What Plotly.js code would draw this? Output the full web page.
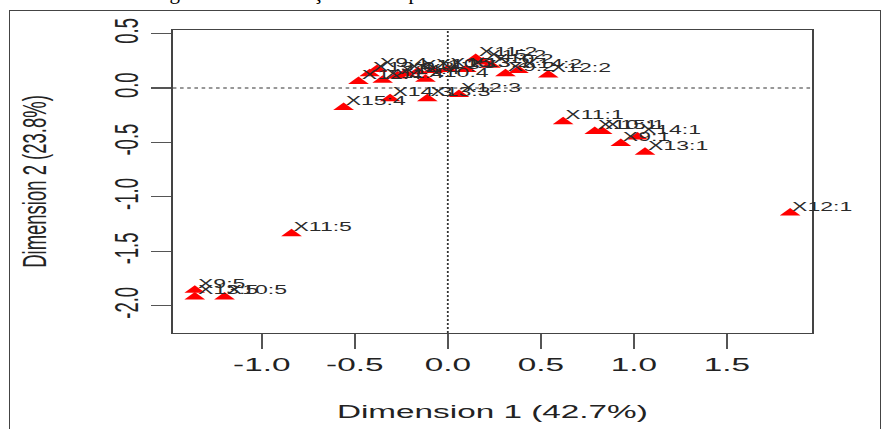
<!DOCTYPE html>
<html><head><meta charset="utf-8">
<script src="https://cdn.plot.ly/plotly-3.0.1.min.js"></script>
<style>
html,body{margin:0;padding:0;background:#fff;overflow:hidden;}
#wrap{position:relative;width:883px;height:429px;overflow:hidden;background:#fff;}
#frame{position:absolute;left:9px;top:10px;width:872px;height:440px;border:1.5px solid #444;box-sizing:border-box;}
#cap{position:absolute;left:150px;top:-18px;font-family:"Liberation Serif",serif;font-size:21px;line-height:21px;white-space:nowrap;color:#000;letter-spacing:1px;}
#plot{position:absolute;left:0;top:0;width:490.5px;height:429px;transform:scaleX(1.8002);transform-origin:0 0;}
</style></head>
<body>
<div id="wrap"><div id="frame"></div><div id="cap">Figura 2 – Ilustração do mapa</div><div id="plot"></div></div>
<script>
const labels = ["X12:1","X11:1","X10:1","X15:1","X9:1","X14:1","X13:1",
  "X9:5","X13:5","X10:5","X11:5",
  "X15:4","X14:3","X13:3","X12:3",
  "X12:4","X13:4","X9:4","X11:4","X14:4","X9:3","X10:4","X11:3","X10:3","X15:3",
  "X13:2","X11:2","X15:2","X10:2","X9:2","X14:2","X12:2"];
const dim1 = [1.84,0.62,0.79,0.83,0.93,1.02,1.06,
  -1.36,-1.36,-1.20,-0.84,
  -0.56,-0.31,-0.11,0.06,
  -0.48,-0.42,-0.38,-0.35,-0.27,-0.23,-0.12,-0.16,-0.08,0.00,
  0.10,0.15,0.19,0.23,0.31,0.38,0.54];
const dim2 = [-1.15,-0.31,-0.40,-0.40,-0.51,-0.45,-0.59,
  -1.86,-1.92,-1.92,-1.34,
  -0.18,-0.10,-0.10,-0.06,
  0.06,0.13,0.17,0.07,0.11,0.13,0.08,0.15,0.16,0.17,
  0.17,0.27,0.24,0.21,0.13,0.16,0.12];
const xTickVals = [-1,-0.5,0,0.5,1,1.5];
const xTickText = ["-1.0","-0.5","0.0","0.5","1.0","1.5"];
const yTickVals = [0.5,0,-0.5,-1,-1.5,-2];
const yTickText = ["0.5","0.0","-0.5","-1.0","-1.5","-2.0"];
const xTitle = "Dimension 1 (42.7%)";
const yTitle = "Dimension 2 (23.8%)";

const fontFam = "Liberation Sans, Arial, sans-serif";
const trace = {
  x: dim1, y: dim2, mode: "markers", type: "scatter",
  marker: {symbol: "triangle-up", size: 10, color: "#ff0000", line: {width: 0}},
  hoverinfo: "skip"
};
const annotations = labels.map((t, i) => ({
  x: dim1[i], y: dim2[i], xref: "x", yref: "y", text: t, showarrow: false,
  xanchor: "left", yanchor: "middle", xshift: -0.5, yshift: 7,
  font: {family: fontFam, size: 12.8, color: "#2a2a2a"}
}));
const layout = {
  width: 490.5, height: 429,
  margin: {l: 95.5, r: 40, t: 30, b: 96, pad: 0},
  paper_bgcolor: "rgba(0,0,0,0)", plot_bgcolor: "#fff",
  showlegend: false,
  font: {family: fontFam, color: "#222"},
  xaxis: {
    range: [-1.478, 1.957], tickvals: xTickVals, ticktext: xTickText,
    ticks: "outside", ticklen: 15, tickwidth: 1.2, tickcolor: "#555",
    showline: true, mirror: true, linecolor: "#444", linewidth: 1.2,
    showgrid: false, zeroline: false,
    tickfont: {size: 18.5, color: "#222"},
    title: {text: xTitle, font: {size: 18.5, color: "#222"}, standoff: 30}
  },
  yaxis: {
    range: [-2.252, 0.533], tickvals: yTickVals, ticktext: yTickText,
    ticks: "outside", ticklen: 11, tickwidth: 1.2, tickcolor: "#555",
    showline: true, mirror: true, linecolor: "#444", linewidth: 1.2,
    showgrid: false, zeroline: false, tickangle: -90,
    tickfont: {size: 18.5, color: "#222"},
    title: {text: yTitle, font: {size: 18.5, color: "#222"}, standoff: 28}
  },
  shapes: [
    {type: "line", xref: "x", yref: "paper", x0: 0, x1: 0, y0: 0, y1: 1,
     line: {dash: "2px,2px", width: 1, color: "#333"}, layer: "below"},
    {type: "line", xref: "paper", yref: "y", x0: 0, x1: 1, y0: 0, y1: 0,
     line: {dash: "2px,2px", width: 1, color: "#333"}, layer: "below"}
  ],
  annotations: annotations
};
Plotly.newPlot("plot", [trace], layout, {staticPlot: true, displayModeBar: false});
</script>
</body></html>
